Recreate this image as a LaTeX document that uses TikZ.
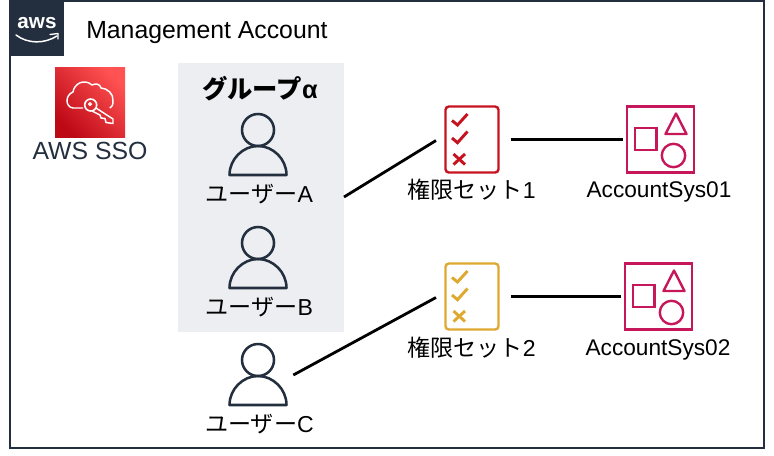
\documentclass[tikz,border=0pt]{standalone}
\usepackage{fontspec}
\setmainfont{Liberation Sans}
\newfontfamily\cjk{Noto Sans CJK JP}
\definecolor{awsnavy}{HTML}{232F3E}
\definecolor{groupgrey}{HTML}{ECEEF2}
\definecolor{permred}{HTML}{C7131F}
\definecolor{permyellow}{HTML}{DFA82F}
\definecolor{accountpink}{HTML}{C7175B}
\definecolor{ssolow}{HTML}{BD0816}
\definecolor{ssohigh}{HTML}{FF5252}
\tikzset{
    txt/.style={inner sep=0pt, font=\fontsize{17}{20}\selectfont},
    jptxt/.style={inner sep=0pt, font=\fontsize{17.3}{20}\selectfont},
    title/.style={inner sep=0pt, font=\fontsize{18.6}{21}\selectfont},
    iconbox/.style={inner sep=0pt, minimum width=#1*0.75pt, minimum height=#1*0.75pt},
    conn/.style={black, line width=2.1pt},
    pics/person/.style={code={
        \draw [awsnavy, line width=1.9pt, line join=round] (0,-22) circle (16);
        \draw [awsnavy, line width=1.9pt, line join=round] (-28.5,23) .. controls (-28.5,7) and (-15,-6) .. (0,-6) .. controls (15,-6) and (28.5,7) .. (28.5,23) -- cycle;
    }},
    pics/checklist/.style={code={
        \draw [#1, line width=1.8pt, rounded corners=2.5] (-26.5,-33) rectangle (26.5,33);
        \draw [#1, line width=2.2pt] (-20,-19) -- (-14.5,-14.5) -- (-4.5,-25.5);
        \draw [#1, line width=2.2pt] (-20,-1.5) -- (-14.5,3.2) -- (-4.5,-8);
        \draw [#1, line width=2.2pt] (-18.5,14.5) -- (-7,25) (-7,14.5) -- (-18.5,25);
    }},
    pics/shapes/.style={code={
        \draw [accountpink, line width=1.8pt] (-33.5,-33) rectangle (33.5,33);
        \draw [accountpink, line width=1.8pt] (-25.5,-11.5) rectangle (-4,10.5);
        \draw [accountpink, line width=1.8pt, line join=round] (15.5,-26) -- (26,-5.5) -- (5,-5.5) -- cycle;
        \draw [accountpink, line width=1.8pt] (13,16) circle (11.7);
    }},
}
\begin{document}
\begin{tikzpicture}[x=0.75pt, y=-0.75pt]
    \useasboundingbox (0,0) rectangle (774,455);

    % Frame
    \draw [awsnavy, line width=1.5pt] (10,1) rectangle (764,448);
    \node [fill=awsnavy, inner sep=0pt, minimum width=41.25pt, minimum height=42pt, anchor=north west] (logo) at (9,0) {};
    \node [white, inner sep=0pt, font=\fontsize{15.5}{18}\selectfont\bfseries] (awstext) at (37,23) {aws};
    \draw [white, line width=1.1pt, line cap=round] (16,35) .. controls (28,44) and (44,44) .. (57,36);
    \draw [white, line width=1pt, line cap=round, line join=round] (50,34.5) -- (58,33.5) -- (58,39);
    \node [title, anchor=west] (account) at (86,33) {Management Account};

    % SSO
    \node [iconbox=70, bottom color=ssolow, top color=ssohigh, shading angle=-45] (sso) at (90,102.5) {};
    \draw [white, line width=1.1pt, line join=round] (83,108) -- (73,108) .. controls (65,107) and (65,95) .. (73,92) .. controls (74,84) and (84,78) .. (92,85) .. controls (96,83) and (100,84) .. (101,88) .. controls (107,88) and (114,94) .. (113,101) .. controls (113,105) and (112,107) .. (110,108);
    \draw [white, line width=1.2pt] (90.7,105) circle (6);
    \draw [white, line width=0.9pt] (90,104) circle (1.4);
    \draw [white, line width=1.1pt, line join=round] (96,108) -- (113,119) -- (113,123.5) -- (106,122.5) -- (105,118.5) -- (101,118) -- (100,115) -- (92,111);
    \node [title, awsnavy] (ssolabel) at (90,151) {AWS SSO};

    % Group
    \node [fill=groupgrey, inner sep=0pt, minimum width=124.5pt, minimum height=201.75pt, anchor=north west] (group) at (178,63) {};
    \node [inner sep=0pt, font=\fontsize{19}{22}\selectfont] (grouplabel) at (260,89) {{\cjk\bfseries グループ}\textbf{α}};

    % Users
    \node [iconbox=62] (userA) at (258,152) {};
    \node [iconbox=62] (userB) at (258,265) {};
    \node [iconbox=62] (userC) at (258,382) {};
    \pic at (userA) {person};
    \pic at (userB) {person};
    \pic at (userC) {person};
    \node [jptxt] (userAlabel) at (259.5,194) {{\cjk ユーザー}A};
    \node [jptxt] (userBlabel) at (259.5,307) {{\cjk ユーザー}B};
    \node [jptxt] (userClabel) at (259.5,424) {{\cjk ユーザー}C};

    % Permission sets
    \node [iconbox=66] (perm1) at (472,139.5) {};
    \node [iconbox=66] (perm2) at (472,296.5) {};
    \pic at (perm1) {checklist=permred};
    \pic at (perm2) {checklist=permyellow};
    \node [jptxt] (perm1label) at (471.5,190) {{\cjk 権限セット}1};
    \node [jptxt] (perm2label) at (471.5,348) {{\cjk 権限セット}2};

    % Accounts
    \node [iconbox=66] (sys1) at (660.5,139.5) {};
    \node [iconbox=66] (sys2) at (658.5,296.5) {};
    \pic at (sys1) {shapes};
    \pic at (sys2) {shapes};
    \node [txt] (sys1label) at (659,191.5) {AccountSys01};
    \node [txt] (sys2label) at (658,349.5) {AccountSys02};

    % Lines
    \draw [conn] ([xshift=64.5pt,yshift=-33.75pt]userA.center) -- ([xshift=-27pt,yshift=-0.75pt]perm1.center);
    \draw [conn] ([xshift=29pt]perm1.center) -- ([xshift=-28pt]sys1.center);
    \draw [conn] ([xshift=26.5pt,yshift=5.25pt]userC.center) -- ([xshift=-27pt,yshift=-0.75pt]perm2.center);
    \draw [conn] ([xshift=29pt]perm2.center) -- ([xshift=-28pt]sys2.center);
\end{tikzpicture}
\end{document}
